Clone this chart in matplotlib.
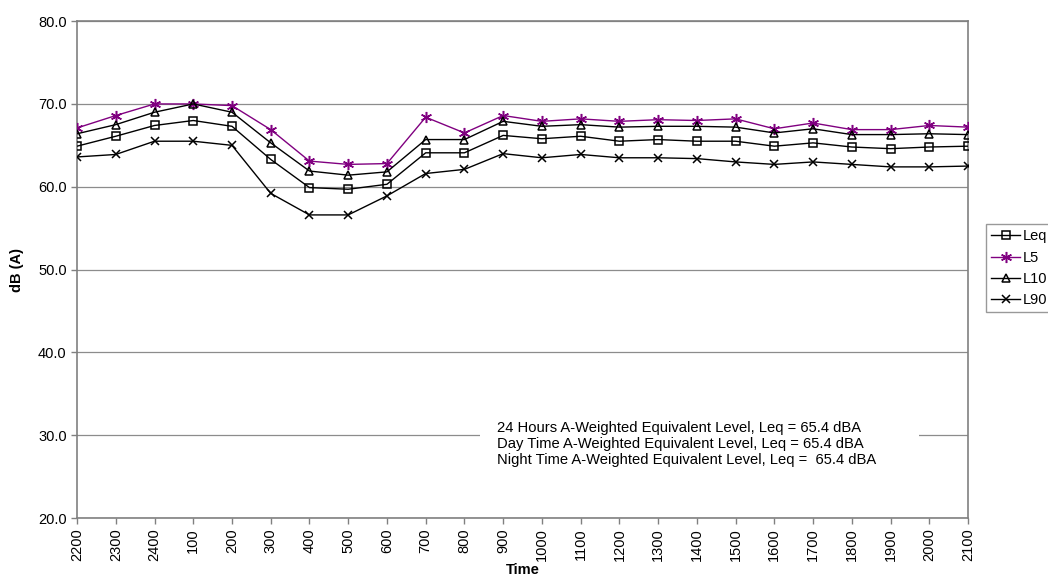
import matplotlib
matplotlib.use("Agg")
import matplotlib.pyplot as plt
from matplotlib.patches import Rectangle

plt.rcParams['font.family'] = ['Liberation Sans', 'DejaVu Sans']

# Hourly readings
times = ["2200", "2300", "2400", "100", "200", "300", "400", "500", "600", "700",
         "800", "900", "1000", "1100", "1200", "1300", "1400", "1500", "1600",
         "1700", "1800", "1900", "2000", "2100"]

leq = [64.9, 66.1, 67.4, 68.0, 67.3, 63.3, 59.9, 59.7, 60.3, 64.1,
       64.1, 66.2, 65.8, 66.1, 65.5, 65.7, 65.5, 65.5, 64.9, 65.3,
       64.8, 64.6, 64.8, 64.9]
l5 = [67.1, 68.6, 70.0, 70.0, 69.8, 66.9, 63.1, 62.7, 62.8, 68.4,
      66.5, 68.6, 67.9, 68.2, 67.9, 68.1, 68.0, 68.2, 67.0, 67.7,
      66.9, 66.9, 67.4, 67.2]
l10 = [66.4, 67.5, 69.0, 70.0, 69.0, 65.3, 61.9, 61.4, 61.8, 65.7,
       65.7, 67.9, 67.3, 67.5, 67.2, 67.3, 67.3, 67.2, 66.5, 67.0,
       66.3, 66.3, 66.4, 66.3]
l90 = [63.6, 63.9, 65.5, 65.5, 65.0, 59.2, 56.6, 56.6, 58.9, 61.6,
       62.1, 64.0, 63.5, 63.9, 63.5, 63.5, 63.4, 63.0, 62.7, 63.0,
       62.7, 62.4, 62.4, 62.5]

y_ticks = [20, 30, 40, 50, 60, 70, 80]

summary_lines = [
    "24 Hours A-Weighted Equivalent Level, Leq = 65.4 dBA",
    "Day Time A-Weighted Equivalent Level, Leq = 65.4 dBA",
    "Night Time A-Weighted Equivalent Level, Leq =  65.4 dBA",
]

fig = plt.figure(figsize=(10.48, 5.87), dpi=100)
ax = fig.add_axes([0.0735, 0.1175, 0.8502, 0.8465])

x = list(range(len(times)))
lw = 1.0
ax.plot(x, leq, color='black', lw=lw, marker='s', ms=5.2, mfc='none', mec='black',
        mew=1.1, label='Leq', zorder=3)
ax.plot(x, l5, color='#800080', lw=lw, marker=(6, 2, 0), ms=8, mec='#800080',
        mew=1.1, label='L5', zorder=3)
ax.plot(x, l10, color='black', lw=lw, marker='^', ms=5.5, mfc='none', mec='black',
        mew=1.1, label='L10', zorder=3)
ax.plot(x, l90, color='black', lw=lw, marker='x', ms=5.5, mec='black',
        mew=1.1, label='L90', zorder=3)

ax.set_xlim(0, len(times) - 1)
ax.set_ylim(20, 80)
ax.set_yticks(y_ticks)
ax.set_yticklabels([f"{v:.1f}" for v in y_ticks], fontsize=10.5)
ax.set_xticks(x)
ax.set_xticklabels(times, rotation=90, fontsize=10.5)
ax.tick_params(axis='both', direction='out', length=4, color='#808080', width=1)

ax.yaxis.grid(True, color='#8c8c8c', lw=0.9)
ax.set_axisbelow(True)
for side in ['left', 'bottom', 'right', 'top']:
    ax.spines[side].set_color('#808080')
    ax.spines[side].set_linewidth(1.2)

ax.set_ylabel("dB (A)", fontsize=10.5, fontweight='bold', labelpad=10)
ax.set_xlabel("Time", fontsize=10.5, fontweight='bold', labelpad=1)

# White panel behind the summary text, interrupting the 30 dB gridline
ax.add_patch(Rectangle((0.452, 0.095), 0.493, 0.11, transform=ax.transAxes,
                       facecolor='white', edgecolor='none', zorder=2))
ax.text(0.471, 0.1486, "\n".join(summary_lines), transform=ax.transAxes,
        fontsize=10.6, va='center', ha='left', linespacing=1.2, zorder=4)

leg = fig.legend(loc='upper left', bbox_to_anchor=(0.941, 0.618), fontsize=10.5,
                 frameon=True, fancybox=False, edgecolor='#808080',
                 handlelength=2.0, handletextpad=0.15, borderpad=0.35,
                 labelspacing=0.5, borderaxespad=0)
leg.get_frame().set_linewidth(1.0)

fig.savefig("out.png", dpi=100)
